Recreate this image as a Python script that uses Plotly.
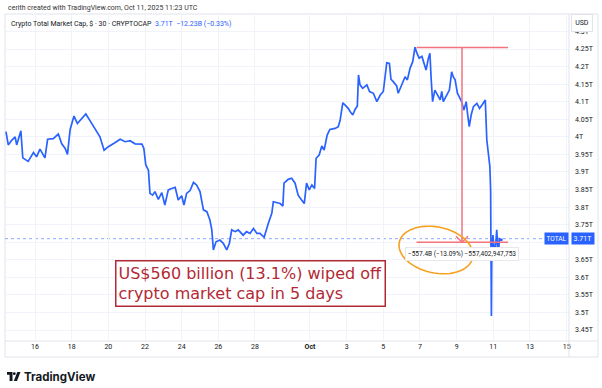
import plotly.graph_objects as go
import numpy as np

# ---------------- data ----------------
times = [
    "2025-09-14 10:00", "2025-09-14 13:00", "2025-09-14 17:30", "2025-09-14 22:00",
    "2025-09-15 00:00", "2025-09-15 05:30", "2025-09-15 08:00", "2025-09-15 15:00",
    "2025-09-15 22:00", "2025-09-16 02:00", "2025-09-16 06:30", "2025-09-16 13:00",
    "2025-09-16 16:30", "2025-09-17 00:00", "2025-09-17 06:30", "2025-09-17 11:00",
    "2025-09-17 15:30", "2025-09-17 18:30", "2025-09-17 22:00", "2025-09-18 03:00",
    "2025-09-18 07:30", "2025-09-18 13:00", "2025-09-18 18:30", "2025-09-19 00:00",
    "2025-09-19 06:30", "2025-09-19 13:00", "2025-09-19 18:30", "2025-09-20 00:00",
    "2025-09-20 08:30", "2025-09-20 15:30", "2025-09-20 22:00", "2025-09-21 04:30",
    "2025-09-21 11:00", "2025-09-21 20:00", "2025-09-21 22:30", "2025-09-22 01:00",
    "2025-09-22 04:30", "2025-09-22 06:30", "2025-09-22 10:00", "2025-09-22 13:00",
    "2025-09-22 17:30", "2025-09-22 22:00", "2025-09-23 02:00", "2025-09-23 06:30",
    "2025-09-23 11:00", "2025-09-23 15:30", "2025-09-23 19:30", "2025-09-24 00:00",
    "2025-09-24 03:00", "2025-09-24 06:30", "2025-09-24 11:00", "2025-09-24 15:30",
    "2025-09-24 19:30", "2025-09-25 00:00", "2025-09-25 04:30", "2025-09-25 09:00",
    "2025-09-25 13:00", "2025-09-25 15:30", "2025-09-25 17:30", "2025-09-25 21:00",
    "2025-09-26 02:00", "2025-09-26 06:30", "2025-09-26 11:00", "2025-09-26 14:30",
    "2025-09-26 17:30", "2025-09-26 22:00", "2025-09-27 02:00", "2025-09-27 08:30",
    "2025-09-27 13:00", "2025-09-27 17:30", "2025-09-27 22:00", "2025-09-28 02:30",
    "2025-09-28 06:30", "2025-09-28 12:00", "2025-09-28 17:30", "2025-09-28 22:00",
    "2025-09-29 00:00", "2025-09-29 04:30", "2025-09-29 09:00", "2025-09-29 12:30",
    "2025-09-29 14:00", "2025-09-29 19:30", "2025-09-30 00:00", "2025-09-30 04:30",
    "2025-09-30 08:30", "2025-09-30 13:00", "2025-09-30 16:30", "2025-09-30 19:30",
    "2025-09-30 23:00", "2025-10-01 02:30", "2025-10-01 06:00", "2025-10-01 08:00",
    "2025-10-01 12:00", "2025-10-01 15:30", "2025-10-01 18:30", "2025-10-01 22:30",
    "2025-10-02 02:00", "2025-10-02 09:00", "2025-10-02 13:00", "2025-10-02 15:30",
    "2025-10-02 19:00", "2025-10-02 23:00", "2025-10-03 02:00", "2025-10-03 04:30",
    "2025-10-03 08:00", "2025-10-03 11:00", "2025-10-03 14:00", "2025-10-03 15:30",
    "2025-10-03 17:30", "2025-10-03 21:00", "2025-10-04 02:30", "2025-10-04 06:00",
    "2025-10-04 11:00", "2025-10-04 15:30", "2025-10-04 20:00", "2025-10-05 00:00",
    "2025-10-05 02:30", "2025-10-05 04:30", "2025-10-05 08:00", "2025-10-05 10:00",
    "2025-10-05 13:00", "2025-10-05 17:30", "2025-10-05 19:30", "2025-10-06 00:00",
    "2025-10-06 04:30", "2025-10-06 07:30", "2025-10-06 11:00", "2025-10-06 14:30",
    "2025-10-06 17:30", "2025-10-06 20:00", "2025-10-06 23:00", "2025-10-07 02:30",
    "2025-10-07 05:30", "2025-10-07 08:00", "2025-10-07 11:00", "2025-10-07 13:00",
    "2025-10-07 14:30", "2025-10-07 16:30", "2025-10-07 19:30", "2025-10-07 22:30",
    "2025-10-08 02:30", "2025-10-08 04:30", "2025-10-08 06:30", "2025-10-08 11:00",
    "2025-10-08 14:30", "2025-10-08 17:30", "2025-10-08 19:30", "2025-10-08 22:00",
    "2025-10-09 01:00", "2025-10-09 03:30", "2025-10-09 06:30", "2025-10-09 09:30",
    "2025-10-09 12:30", "2025-10-09 14:30", "2025-10-09 16:30", "2025-10-09 19:00",
    "2025-10-09 22:00", "2025-10-10 02:30", "2025-10-10 06:00", "2025-10-10 09:00",
    "2025-10-10 12:00", "2025-10-10 13:30", "2025-10-10 15:30", "2025-10-10 17:30",
    "2025-10-10 19:30", "2025-10-10 20:30", "2025-10-10 21:00", "2025-10-10 21:30",
    "2025-10-10 22:00", "2025-10-10 23:30", "2025-10-11 02:00", "2025-10-11 04:30",
    "2025-10-11 06:30", "2025-10-11 08:00", "2025-10-11 11:00", "2025-10-11 11:23",
]
values = [
    4.015, 3.977, 3.990, 4.000,
    3.977, 4.017, 3.940, 3.930,
    3.955, 3.943, 3.965, 3.940,
    3.993, 3.995, 4.008, 3.980,
    3.967, 3.950, 4.021, 4.059,
    4.038, 4.053, 4.065, 4.046,
    4.024, 4.000, 3.962, 3.972,
    3.983, 3.993, 3.986, 3.989,
    3.980, 3.979, 3.967, 3.920,
    3.905, 3.839, 3.834, 3.844,
    3.822, 3.841, 3.806, 3.849,
    3.853, 3.856, 3.820, 3.832,
    3.806, 3.839, 3.847, 3.870,
    3.863, 3.844, 3.792, 3.787,
    3.763, 3.735, 3.678, 3.701,
    3.706, 3.697, 3.678, 3.697,
    3.735, 3.730, 3.735, 3.720,
    3.730, 3.725, 3.739, 3.725,
    3.725, 3.714, 3.754, 3.782,
    3.815, 3.812, 3.810, 3.803,
    3.868, 3.879, 3.882, 3.868,
    3.834, 3.820, 3.810, 3.868,
    3.849, 3.863, 3.853, 3.939,
    3.948, 3.974, 3.962, 4.005,
    4.021, 4.024, 4.029, 4.048,
    4.097, 4.088, 4.081, 4.072,
    4.062, 4.078, 4.088, 4.176,
    4.148, 4.138, 4.148, 4.129,
    4.124, 4.100, 4.119, 4.129,
    4.171, 4.211, 4.209, 4.164,
    4.157, 4.145, 4.124, 4.148,
    4.171, 4.162, 4.195, 4.214,
    4.255, 4.238, 4.224, 4.229,
    4.209, 4.190, 4.224, 4.238,
    4.171, 4.100, 4.133, 4.119,
    4.105, 4.129, 4.100, 4.119,
    4.133, 4.185, 4.171, 4.162,
    4.124, 4.114, 4.100, 4.076,
    4.100, 4.062, 4.029, 4.062,
    4.086, 4.095, 4.081, 4.090,
    4.100, 4.105, 3.991, 3.943,
    3.915, 3.849, 3.744, 3.490,
    3.668, 3.720, 3.659, 3.735,
    3.659, 3.710, 3.706, 3.710,
]

x_tick_dates = ["2025-09-16", "2025-09-18", "2025-09-20", "2025-09-22", "2025-09-24",
                "2025-09-26", "2025-09-28", "2025-10-01", "2025-10-03", "2025-10-05",
                "2025-10-07", "2025-10-09", "2025-10-11", "2025-10-13", "2025-10-15"]
x_tick_labels = ["16", "18", "20", "22", "24", "26", "28", "<b>Oct</b>", "3", "5",
                 "7", "9", "11", "13", "15"]
y_tick_values = [3.45, 3.50, 3.55, 3.60, 3.65, 3.70, 3.75, 3.80, 3.85, 3.90,
                 3.95, 4.00, 4.05, 4.10, 4.15, 4.20, 4.25, 4.30]
# the 3.7T label is hidden behind the last-price tag in the reference
y_tick_labels = ["3.45T", "3.5T", "3.55T", "3.6T", "3.65T", "", "3.75T", "3.8T",
                 "3.85T", "3.9T", "3.95T", "4T", "4.05T", "4.1T", "4.15T", "4.2T",
                 "4.25T", "4.3T"]

last_value = 3.71
measure_top = 4.2545
measure_bottom = 3.700
measure_x = "2025-10-09 07:00"
measure_x0 = "2025-10-06 19:30"
measure_x1 = "2025-10-11 19:20"

# ---------------- layout helpers ----------------
FW, FH = 602, 388
PL, PR, PT, PB = 5, 569, 15, 341   # plot area in pixels


def xp(p):
    return (p - PL) / (PR - PL)


def yp(p):
    return (PB - p) / (PB - PT)


BLUE = "#2962FF"
RED = "#f2737c"
DARKRED = "#b22a35"
GRID = "#f0f3fa"
FRAME = "#e0e3eb"
TXT = "#131722"
FONT = "Roboto"

fig = go.Figure()
fig.add_trace(go.Scatter(x=times, y=values, mode="lines",
                         line=dict(color=BLUE, width=1.7), hoverinfo="skip"))

shapes = []
# frame
shapes.append(dict(type="rect", xref="paper", yref="paper",
                   x0=xp(5), x1=xp(598), y0=yp(357), y1=yp(14),
                   line=dict(color=FRAME, width=1), layer="below"))
shapes.append(dict(type="line", xref="paper", yref="paper",
                   x0=1, x1=1, y0=yp(357), y1=yp(14), line=dict(color=FRAME, width=1)))
shapes.append(dict(type="line", xref="paper", yref="paper",
                   x0=xp(5), x1=xp(598), y0=0, y1=0, line=dict(color=FRAME, width=1)))
# last-price dotted line
shapes.append(dict(type="line", xref="paper", yref="y", x0=0, x1=1,
                   y0=last_value, y1=last_value,
                   line=dict(color="rgba(41,98,255,0.55)", width=1, dash="dot"),
                   layer="below"))
# measurement tool
shapes.append(dict(type="line", xref="x", yref="y", x0=measure_x0, x1=measure_x1,
                   y0=measure_top, y1=measure_top, line=dict(color=RED, width=1.5)))
shapes.append(dict(type="line", xref="x", yref="y", x0=measure_x0, x1=measure_x1,
                   y0=measure_bottom, y1=measure_bottom, line=dict(color=RED, width=1.5)))
shapes.append(dict(type="line", xref="x", yref="y", x0=measure_x, x1=measure_x,
                   y0=measure_top, y1=measure_bottom, line=dict(color=RED, width=1.5)))
shapes.append(dict(type="path", xref="x", yref="y", xsizemode="pixel", ysizemode="pixel",
                   xanchor=measure_x, yanchor=measure_bottom,
                   path="M-6,6 L0,0 L6,6", line=dict(color=RED, width=1.5)))

# orange ellipse (px)
cx, cy, a, b, ang = 436, 250, 37.5, 23, np.deg2rad(12)
t = np.linspace(0, 2 * np.pi, 60)
ex = cx + a * np.cos(t) * np.cos(ang) - b * np.sin(t) * np.sin(ang)
ey = cy + a * np.cos(t) * np.sin(ang) + b * np.sin(t) * np.cos(ang)
epath = "M" + " L".join(f"{xp(u):.5f},{yp(v):.5f}" for u, v in zip(ex, ey)) + " Z"
shapes.append(dict(type="path", xref="paper", yref="paper", path=epath,
                   line=dict(color="#f5a020", width=1.6)))

# TradingView logo (px)
def pth(pts):
    return "M" + " L".join(f"{xp(u):.5f},{yp(v):.5f}" for u, v in pts) + " Z"

shapes.append(dict(type="path", xref="paper", yref="paper",
                   path=pth([(7, 372), (12.5, 372), (12.5, 381), (9.6, 381), (9.6, 374.8), (7, 374.8)]),
                   fillcolor=TXT, line=dict(width=0)))
shapes.append(dict(type="circle", xref="paper", yref="paper",
                   x0=xp(12.9), x1=xp(15.7), y0=yp(375.1), y1=yp(372.3),
                   fillcolor=TXT, line=dict(width=0)))
shapes.append(dict(type="path", xref="paper", yref="paper",
                   path=pth([(13.8, 381), (17.3, 372), (20.5, 372), (17.0, 381)]),
                   fillcolor=TXT, line=dict(width=0)))

annotations = []
annotations.append(dict(xref="paper", yref="paper", x=xp(6), y=yp(7.5),
                        text="cerith created with TradingView.com, Oct 11, 2025 11:23 UTC",
                        showarrow=False, xanchor="left", yanchor="middle",
                        font=dict(size=7, color="#333", family=FONT)))
annotations.append(dict(xref="paper", yref="paper", x=xp(9), y=yp(24),
                        text="Crypto Total Market Cap, $ · 30 · CRYPTOCAP  "
                             f"<span style='color:{BLUE}'>3.71T  −12.23B (−0.33%)</span>",
                        showarrow=False, xanchor="left", yanchor="middle",
                        font=dict(size=7, color=TXT, family=FONT)))
annotations.append(dict(xref="paper", yref="paper", x=xp(582), y=yp(23.5),
                        text="USD", showarrow=False, xanchor="center", yanchor="middle",
                        width=18, height=14, bgcolor="white", bordercolor=FRAME,
                        borderwidth=1, borderpad=1,
                        font=dict(size=7, color=TXT, family=FONT)))
annotations.append(dict(xref="paper", yref="y", x=xp(556), y=last_value,
                        text="TOTAL", showarrow=False, xanchor="center", yanchor="middle",
                        bgcolor=BLUE, borderpad=1.5,
                        font=dict(size=6.5, color="white", family=FONT)))
annotations.append(dict(xref="paper", yref="y", x=xp(582.5), y=last_value,
                        text="3.71T", showarrow=False, xanchor="center", yanchor="middle",
                        bgcolor=BLUE, borderpad=1.5,
                        font=dict(size=7, color="white", family=FONT)))
annotations.append(dict(xref="x", yref="y", x=measure_x, y=measure_bottom, yshift=-12,
                        text="−557.4B (−13.09%) −557,402,947,753", showarrow=False,
                        xanchor="center", yanchor="middle", bgcolor="white",
                        bordercolor="#e6e8ee", borderwidth=1, borderpad=2,
                        font=dict(size=6.5, color=TXT, family=FONT)))
annotations.append(dict(xref="paper", yref="paper", x=xp(250), y=yp(283.5),
                        text="US$560 billion (13.1%) wiped off<br>crypto market cap in 5 days",
                        showarrow=False, xanchor="center", yanchor="middle", align="left",
                        bgcolor="white", bordercolor=DARKRED, borderwidth=1.5, borderpad=2,
                        font=dict(size=16, color=DARKRED, family="DejaVu Sans")))
annotations.append(dict(xref="paper", yref="paper", x=xp(22), y=yp(376.5),
                        text="<b>TradingView</b>", showarrow=False, xanchor="left",
                        yanchor="middle", font=dict(size=11.5, color=TXT, family="Inter")))

fig.update_layout(
    width=FW, height=FH,
    margin=dict(l=PL, r=FW - PR, t=PT, b=FH - PB, pad=0),
    paper_bgcolor="white", plot_bgcolor="white",
    showlegend=False,
    font=dict(family=FONT, size=7, color=TXT),
    shapes=shapes, annotations=annotations,
    xaxis=dict(type="date", range=["2025-09-14 08:43", "2025-10-15 03:06"],
               tickmode="array", tickvals=x_tick_dates, ticktext=x_tick_labels,
               showgrid=True, gridcolor=GRID, gridwidth=1, zeroline=False,
               showline=False, ticks="", tickfont=dict(size=7, color=TXT, family=FONT),
               fixedrange=True),
    yaxis=dict(side="right", range=[3.4187, 4.3468], tickmode="array",
               tickvals=y_tick_values, ticktext=y_tick_labels,
               showgrid=True, gridcolor=GRID, gridwidth=1, zeroline=False,
               showline=False, ticks="", ticklabelstandoff=5,
               tickfont=dict(size=7, color=TXT, family=FONT), fixedrange=True),
)

fig.write_html("out.html", config={"displayModeBar": False},
               post_script="document.body.style.margin='0';document.body.style.overflow='hidden';")
